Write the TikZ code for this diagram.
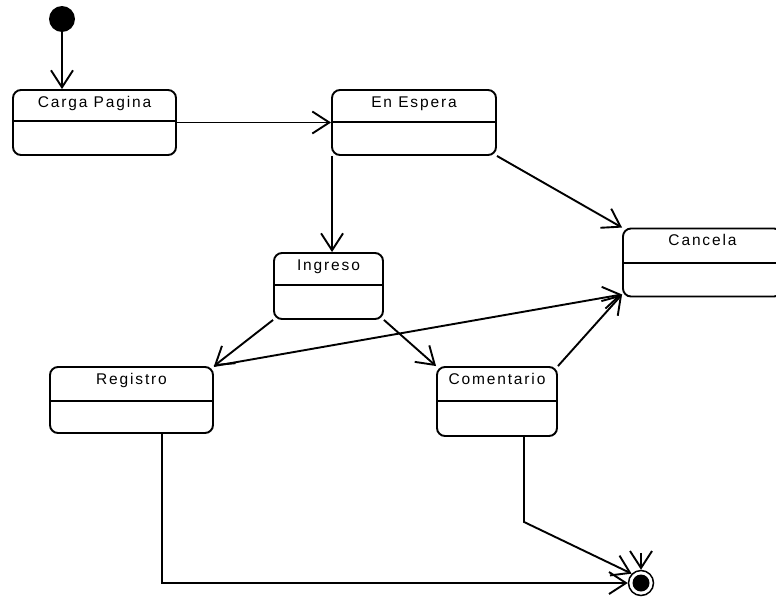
\documentclass[tikz,border=0pt]{standalone}
\usepackage{fontspec}
\newfontfamily\umlfont{Liberation Sans}[LetterSpace=12]
\usetikzlibrary{arrows.meta}

\begin{document}
\begin{tikzpicture}[x=1pt,y=-1pt,line width=1.9pt,
        >={Straight Barb[length=17pt,width=22pt]},
        estado/.style={draw,rounded corners=8pt,inner sep=0pt,text height=17pt,
            font=\umlfont\fontsize{15.5}{18}\selectfont},
        inicio/.style={draw,circle,fill=black,minimum size=24pt,inner sep=0pt},
        fin/.style={draw,circle,minimum size=25pt,inner sep=0pt,line width=1.5pt,
            path picture={\fill (path picture bounding box.center) circle (8.5pt);}}]

        \useasboundingbox (0,0) rectangle (776,600);

        %initial and final state
        \node[inicio] (ini) at (62,19) {};
        \node[fin] (fin) at (641,583) {};

        %states
        \node[estado,minimum width=163pt,text depth=48pt] (carga) at (94.5,122.5) {Carga Pagina};
        \node[estado,minimum width=164pt,text depth=48pt] (espera) at (414,122.5) {En Espera};
        \node[estado,minimum width=159pt,text depth=51pt] (cancela) at (702.5,262.5) {Cancela};
        \node[estado,minimum width=109pt,text depth=49pt] (ingreso) at (328.5,286) {Ingreso};
        \node[estado,minimum width=163pt,text depth=49pt] (registro) at (131.5,400) {Registro};
        \node[estado,minimum width=120pt,text depth=52pt] (comentario) at (497,401.5) {Comentario};

        %dividers
        \draw ([yshift=-32pt]carga.north west) -- ([yshift=-32pt]carga.north east);
        \draw ([yshift=-33pt]espera.north west) -- ([yshift=-33pt]espera.north east);
        \draw ([yshift=-35pt]cancela.north west) -- ([yshift=-35pt]cancela.north east);
        \draw ([yshift=-33pt]ingreso.north west) -- ([yshift=-33pt]ingreso.north east);
        \draw ([yshift=-35pt]registro.north west) -- ([yshift=-35pt]registro.north east);
        \draw ([yshift=-35pt]comentario.north west) -- ([yshift=-35pt]comentario.north east);

        %transitions
        \draw [->] (ini) -- (ini |- carga.north);
        \draw [->] (carga.east) -- (espera.west);
        \draw [->] ([xshift=1pt]espera.south west) -- ([xshift=1pt]espera.south west |- ingreso.north);
        \draw [->] (espera.south east) -- (cancela.north west);
        \draw [->] (ingreso.south west) -- (registro.north east);
        \draw [->] (ingreso.south east) -- (comentario.north west);
        \draw [->] (registro.north east) -- ([yshift=3pt]cancela.south west);
        \draw [->] (comentario.north east) -- ([yshift=3pt]cancela.south west);

        %to final state
        \draw [->] ([xshift=30.5pt]registro.south) |- (fin.west);
        \draw [->] ([xshift=27pt]comentario.south) -- ++(0,85) -- (fin.north west);
        \draw [->] ([yshift=17pt]fin.north) -- (fin.north);
\end{tikzpicture}
\end{document}
